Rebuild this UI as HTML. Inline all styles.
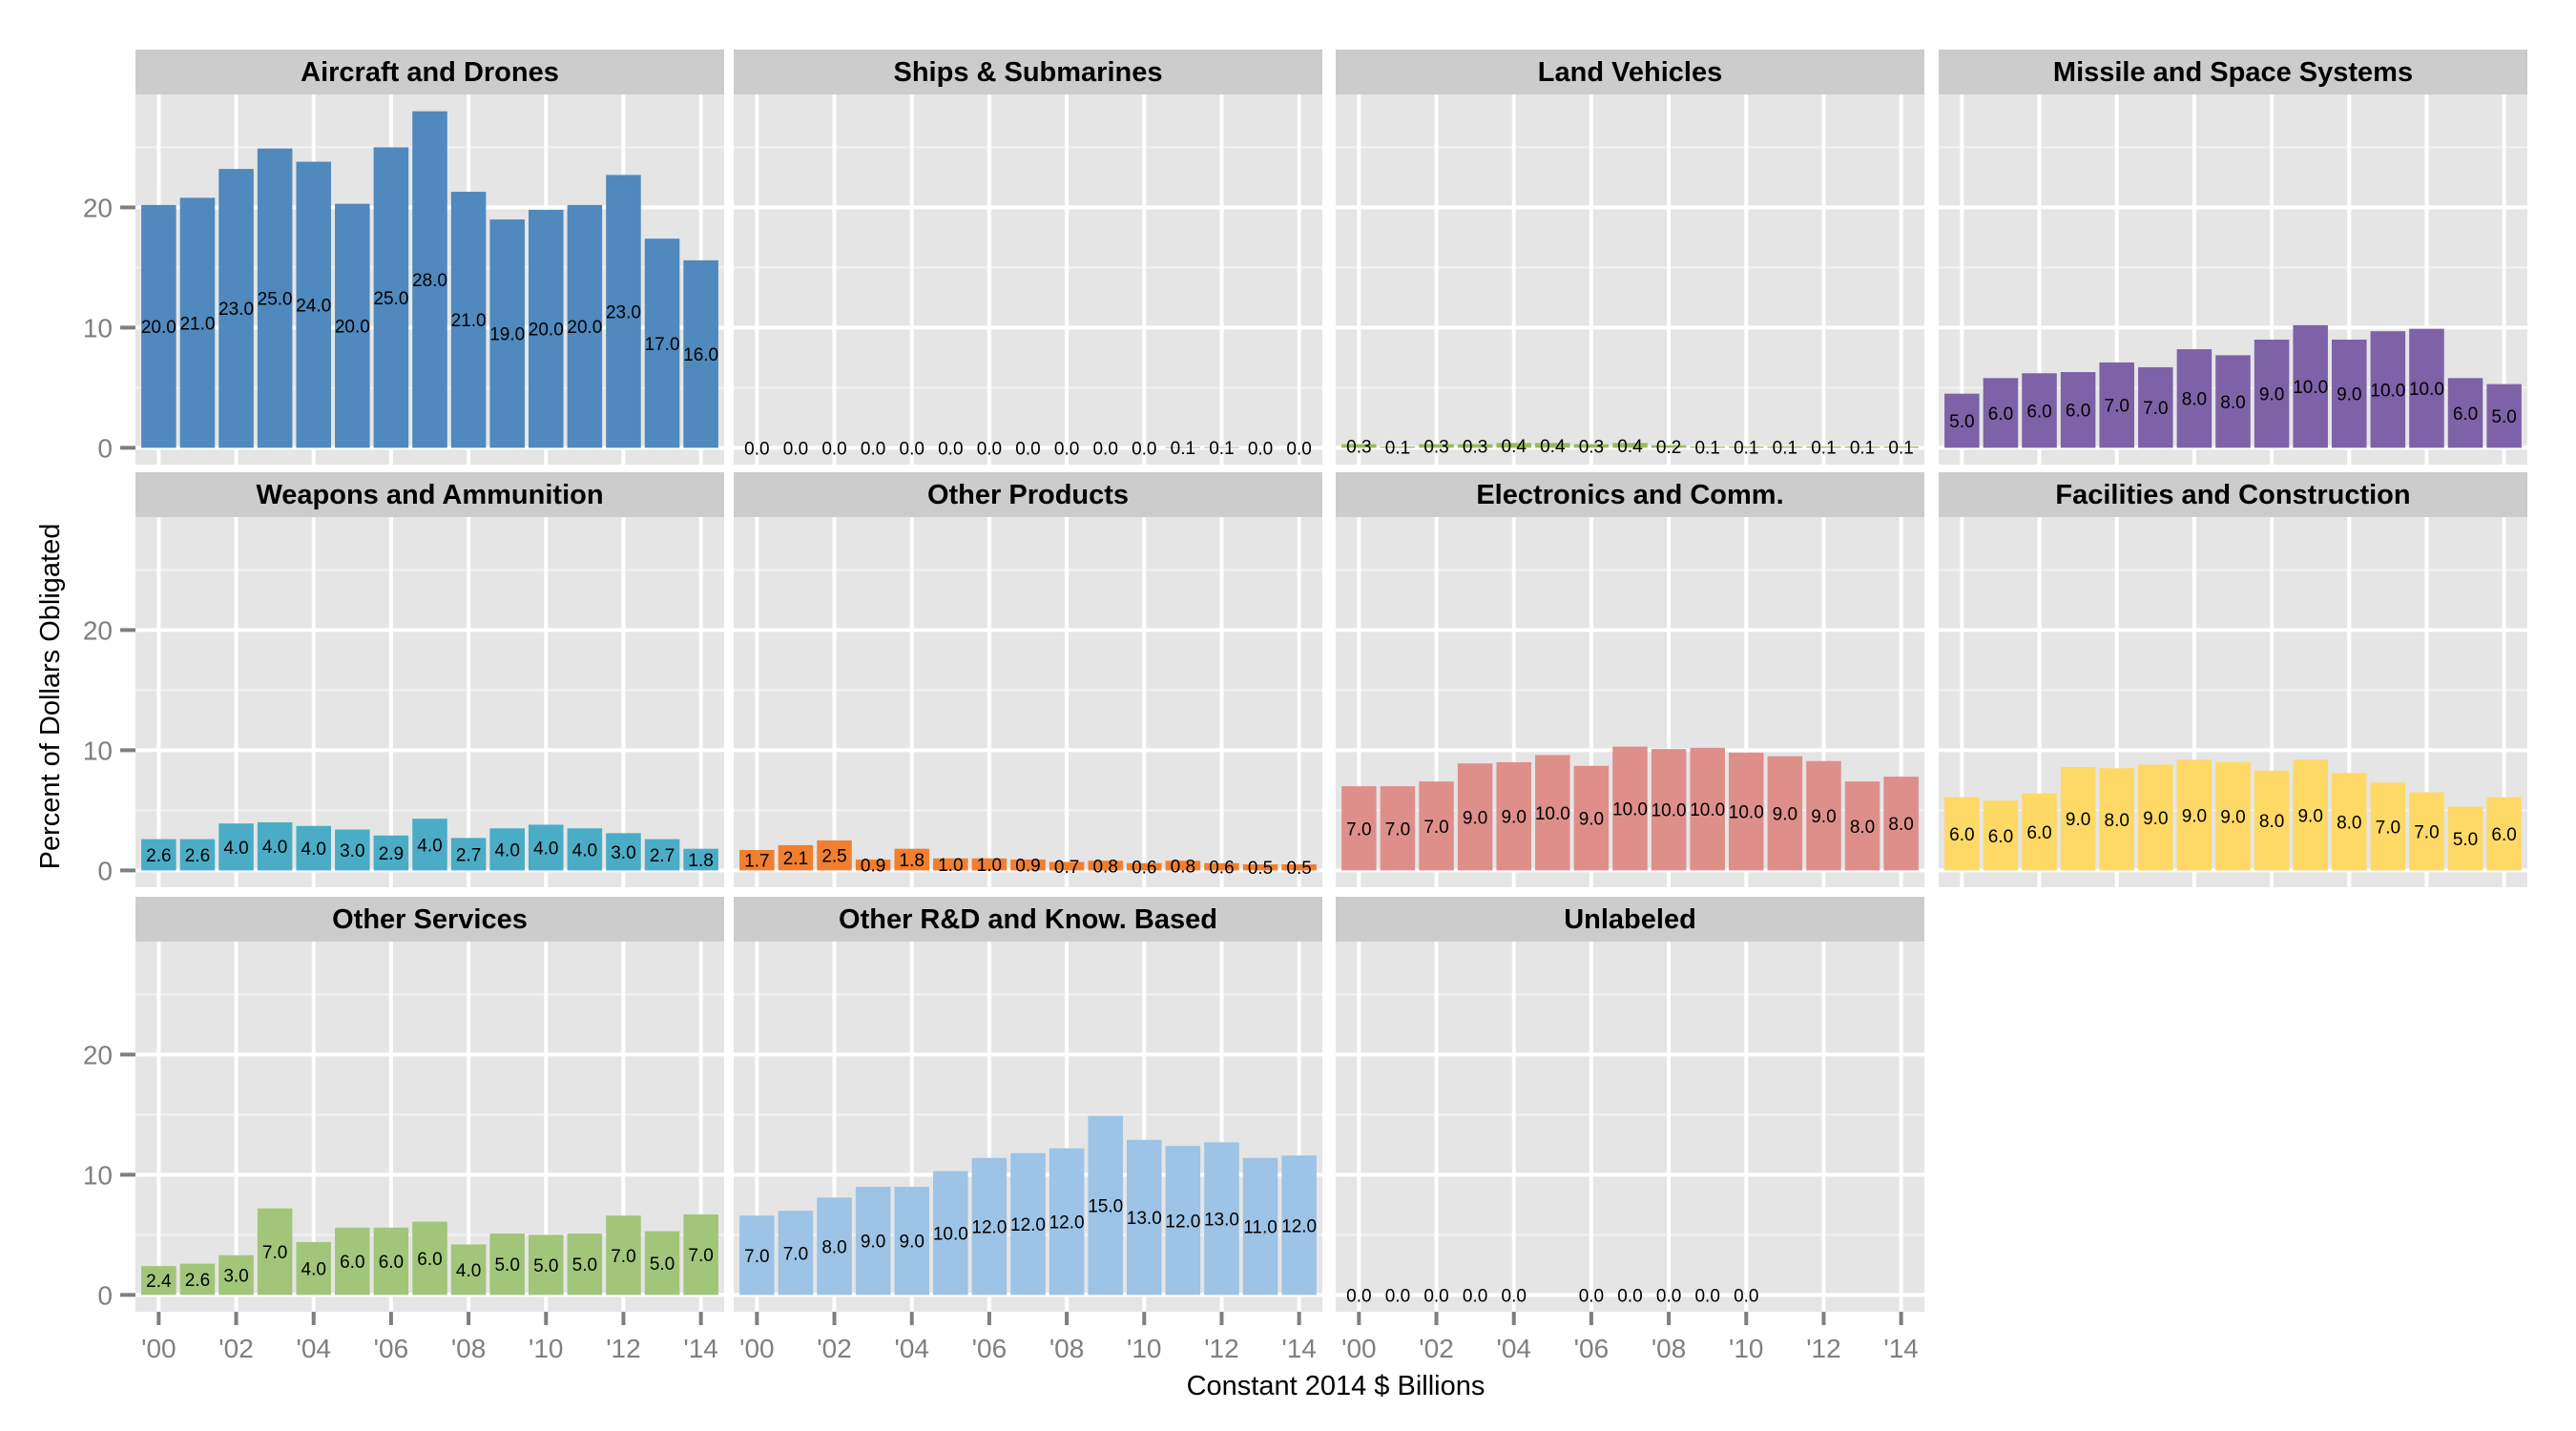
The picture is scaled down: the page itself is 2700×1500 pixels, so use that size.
<!DOCTYPE html>
<html><head><meta charset="utf-8"><style>
html,body{margin:0;padding:0;background:#fff;}
svg{display:block;font-family:"Liberation Sans",sans-serif;}
</style></head><body>
<svg id="chart" width="2700" height="1500" viewBox="0 0 2700 1500"></svg>
<script>
const years = ["'00","'01","'02","'03","'04","'05","'06","'07","'08","'09","'10","'11","'12","'13","'14"];
const xTickLabels = ["'00","'02","'04","'06","'08","'10","'12","'14"];
const yTicks = [0,10,20];
const panelTitles = ["Aircraft and Drones","Ships & Submarines","Land Vehicles","Missile and Space Systems","Weapons and Ammunition","Other Products","Electronics and Comm.","Facilities and Construction","Other Services","Other R&D and Know. Based","Unlabeled"];
const panelColors = ["#4F89BD","#4F89BD","#9BBB59","#7D62A8","#4BACC6","#F07F30","#DE8F8A","#FFD966","#A1C67A","#9DC3E6","#999999"];
const aircraftValues = [20.2,20.8,23.2,24.9,23.8,20.3,25.0,28.0,21.3,19.0,19.8,20.2,22.7,17.4,15.6];
const aircraftLabels = [20,21,23,25,24,20,25,28,21,19,20,20,23,17,16];
const shipsValues = [0,0,0,0,0,0,0,0,0,0,0,0.05,0.05,0,0];
const shipsLabels = [0,0,0,0,0,0,0,0,0,0,0,0.1,0.1,0,0];
const landValues = [0.3,0.1,0.3,0.3,0.4,0.4,0.3,0.4,0.2,0.1,0.1,0.1,0.1,0.1,0.1];
const landLabels = [0.3,0.1,0.3,0.3,0.4,0.4,0.3,0.4,0.2,0.1,0.1,0.1,0.1,0.1,0.1];
const missileValues = [4.5,5.8,6.2,6.3,7.1,6.7,8.2,7.7,9.0,10.2,9.0,9.7,9.9,5.8,5.3];
const missileLabels = [5,6,6,6,7,7,8,8,9,10,9,10,10,6,5];
const weaponsValues = [2.6,2.6,3.9,4.0,3.7,3.4,2.9,4.3,2.7,3.5,3.8,3.5,3.1,2.6,1.8];
const weaponsLabels = [2.6,2.6,4,4,4,3,2.9,4,2.7,4,4,4,3,2.7,1.8];
const otherProductsValues = [1.7,2.1,2.5,0.9,1.8,1.0,1.0,0.9,0.7,0.8,0.6,0.8,0.6,0.5,0.5];
const otherProductsLabels = [1.7,2.1,2.5,0.9,1.8,1.0,1.0,0.9,0.7,0.8,0.6,0.8,0.6,0.5,0.5];
const electronicsValues = [7.0,7.0,7.4,8.9,9.0,9.6,8.7,10.3,10.1,10.2,9.8,9.5,9.1,7.4,7.8];
const electronicsLabels = [7,7,7,9,9,10,9,10,10,10,10,9,9,8,8];
const facilitiesValues = [6.1,5.8,6.4,8.6,8.5,8.8,9.2,9.0,8.3,9.2,8.1,7.3,6.5,5.3,6.1];
const facilitiesLabels = [6,6,6,9,8,9,9,9,8,9,8,7,7,5,6];
const otherServicesValues = [2.4,2.6,3.3,7.2,4.4,5.6,5.6,6.1,4.2,5.1,5.0,5.1,6.6,5.3,6.7];
const otherServicesLabels = [2.4,2.6,3.0,7,4,6,6,6,4,5,5,5,7,5,7];
const rdValues = [6.6,7.0,8.1,9.0,9.0,10.3,11.4,11.8,12.2,14.9,12.9,12.4,12.7,11.4,11.6];
const rdLabels = [7,7,8,9,9,10,12,12,12,15,13,12,13,11,12];
const unlabeledValues = [0,0,0,0,0,null,0,0,0,0,0,null,null,null,null];
const unlabeledLabels = [0,0,0,0,0,null,0,0,0,0,0,null,null,null,null];

const seriesValues = [aircraftValues,shipsValues,landValues,missileValues,weaponsValues,otherProductsValues,electronicsValues,facilitiesValues,otherServicesValues,rdValues,unlabeledValues];
const seriesLabels = [aircraftLabels,shipsLabels,landLabels,missileLabels,weaponsLabels,otherProductsLabels,electronicsLabels,facilitiesLabels,otherServicesLabels,rdLabels,unlabeledLabels];

const NS = "http://www.w3.org/2000/svg";
const svg = document.getElementById("chart");
const colX = [142,769,1400,2032];
const rowY = [52,495,940];
const PW = 617, SH = 47, PH = 388;
const yMin = -1.4, yMax = 29.4;
function mk(tag, attrs, parent){const e=document.createElementNS(NS,tag);for(const k in attrs)e.setAttribute(k,attrs[k]);(parent||svg).appendChild(e);return e;}
function slug(s){return s.toLowerCase().replace(/&/g,'and').replace(/[^a-z0-9]+/g,'-').replace(/^-|-$/g,'');}

seriesValues.forEach((vals, p) => {
  const c = p % 4, r = Math.floor(p / 4);
  const x0 = colX[c], sy = rowY[r], py = sy + SH;
  const name = slug(panelTitles[p]);
  const g = mk("g", {});
  
  
  const xs = i => x0 + (i + 1 - 0.4) / 15.2 * PW;
  const bw = 0.9 / 15.2 * PW;
  const ys = v => py + (yMax - v) / (yMax - yMin) * PH;
  const strip = mk("rect", {x:x0, y:sy, width:PW, height:SH, fill:"#CCCCCC"}, g);
  
  
  const title = mk("text", {x:x0+PW/2, y:sy+33, "text-anchor":"middle", "font-size":29, "font-weight":"bold", fill:"#000"}, g);
  title.textContent = panelTitles[p];
  
  
  const bg = mk("rect", {x:x0, y:py, width:PW, height:PH, fill:"#E5E5E5"}, g);
  
  
  [5,15,25].forEach(v => { const l = mk("line", {x1:x0, x2:x0+PW, y1:ys(v), y2:ys(v), stroke:"#F2F2F2", "stroke-width":2}, g);   });
  yTicks.forEach(v => { const l = mk("line", {x1:x0, x2:x0+PW, y1:ys(v), y2:ys(v), stroke:"#FFFFFF", "stroke-width":4}, g);   });
  for (let i = 0; i < 15; i += 2) { const l = mk("line", {x1:xs(i), x2:xs(i), y1:py, y2:py+PH, stroke:"#FFFFFF", "stroke-width":4}, g);   }
  vals.forEach((v, i) => {
    if (v === null) return;
    const h = Math.max(ys(0) - ys(v), 0);
    const b = mk("rect", {x:xs(i)-bw/2, y:ys(v), width:bw, height:h, fill:panelColors[p]}, g);
    
    
    const lab = seriesLabels[p][i];
    if (lab !== null) {
      const t = mk("text", {x:xs(i), y:ys(v/2)+7, "text-anchor":"middle", "font-size":19, fill:"#000"}, g);
      t.textContent = lab.toFixed(1);
      
      
    }
  });
  if (c === 0) {
    yTicks.forEach(v => {
      const tk = mk("line", {x1:126, x2:142, y1:ys(v), y2:ys(v), stroke:"#7F7F7F", "stroke-width":4}, g);
       
      const t = mk("text", {x:118, y:ys(v)+10, "text-anchor":"end", "font-size":28, fill:"#7F7F7F"}, g);
      t.textContent = v;
       
    });
  }
  if (r === 2) {
    for (let k = 0; k < xTickLabels.length; k++) {
      const i = k * 2;
      const tk = mk("line", {x1:xs(i), x2:xs(i), y1:py+PH, y2:py+PH+14, stroke:"#7F7F7F", "stroke-width":4}, g);
       
      const t = mk("text", {x:xs(i), y:py+PH+48, "text-anchor":"middle", "font-size":28, fill:"#7F7F7F"}, g);
      t.textContent = xTickLabels[k];
       
    }
  }
});
const xt = mk("text", {x:1400, y:1462, "text-anchor":"middle", "font-size":29, fill:"#000"});
xt.textContent = "Constant 2014 $ Billions";


const yt = mk("text", {x:0, y:0, "text-anchor":"middle", "font-size":29, fill:"#000", transform:"translate(62,730) rotate(-90)"});
yt.textContent = "Percent of Dollars Obligated";


</script>
</body></html>
